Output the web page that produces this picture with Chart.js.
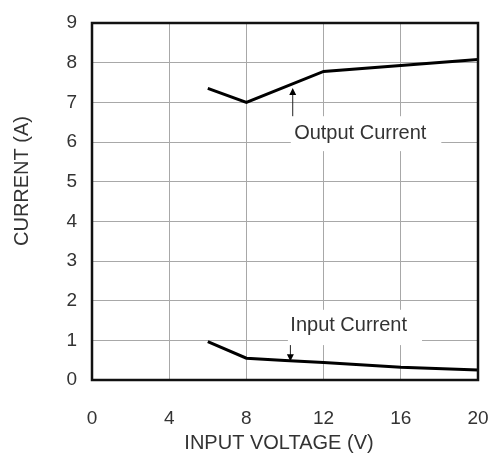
<!DOCTYPE html>
<html>
<head>
<meta charset="utf-8">
<script src="https://cdn.jsdelivr.net/npm/chart.js@4"></script>
<style>
  html, body { margin: 0; padding: 0; background: #fff; }
  #wrap { width: 494px; height: 455px; }
</style>
</head>
<body>
<div id="wrap"><canvas id="chart" width="494" height="455"></canvas></div>
<script>
// axis ticks
const voltageTicks = [0, 4, 8, 12, 16, 20];
const currentTicks = [0, 1, 2, 3, 4, 5, 6, 7, 8, 9];

// output current curve
const outputVoltage = [6, 8, 12, 20];
const outputCurrent = [7.35, 7.0, 7.78, 8.08];

// input current curve
const inputVoltage = [6, 8, 10, 12, 16, 20];
const inputCurrent = [0.97, 0.55, 0.49, 0.44, 0.32, 0.25];

const FONT = '"Liberation Sans", Arial, sans-serif';
const TEXT = '#333333';

function toPoints(xs, ys) {
    return xs.map((x, i) => ({ x: x, y: ys[i] }));
}

// labels with an arrow pointing at the curve
const callouts = [
    { text: 'Output Current', tx: 13.9, ty: 6.22, box: [10.3, 18.1, 6.65, 5.77], ax: 10.4, tip: 7.36 },
    { text: 'Input Current', tx: 13.3, ty: 1.37, box: [10.15, 17.1, 1.77, 0.88], ax: 10.28, tip: 0.47 }
];

const decorPlugin = {
    id: 'decor',
    afterDatasetsDraw(chart) {
        const ctx = chart.ctx;
        const a = chart.chartArea;
        const xs = chart.scales.x, ys = chart.scales.y;
        ctx.save();

        callouts.forEach(c => {
            // white box hiding the grid behind the label
            const x1 = xs.getPixelForValue(c.box[0]), x2 = xs.getPixelForValue(c.box[1]);
            const y1 = ys.getPixelForValue(c.box[2]), y2 = ys.getPixelForValue(c.box[3]);
            ctx.fillStyle = '#fff';
            ctx.fillRect(x1, y1, x2 - x1, y2 - y1);

            ctx.fillStyle = TEXT;
            ctx.font = '20px ' + FONT;
            ctx.textAlign = 'center';
            ctx.textBaseline = 'middle';
            ctx.fillText(c.text, xs.getPixelForValue(c.tx), ys.getPixelForValue(c.ty));

            // arrow
            const ax = xs.getPixelForValue(c.ax);
            const tipY = ys.getPixelForValue(c.tip);
            const up = c.tip > c.box[2];
            const startY = up ? y1 : y2;
            const dir = up ? 1 : -1;
            ctx.strokeStyle = '#222';
            ctx.lineWidth = 1;
            ctx.beginPath();
            ctx.moveTo(ax, startY);
            ctx.lineTo(ax, tipY + dir * 6);
            ctx.stroke();
            ctx.fillStyle = '#000';
            ctx.beginPath();
            ctx.moveTo(ax, tipY);
            ctx.lineTo(ax - 3.5, tipY + dir * 7);
            ctx.lineTo(ax + 3.5, tipY + dir * 7);
            ctx.closePath();
            ctx.fill();
        });

        // frame
        ctx.strokeStyle = '#111';
        ctx.lineWidth = 2.5;
        ctx.strokeRect(a.left, a.top, a.right - a.left, a.bottom - a.top);

        // axis titles
        ctx.fillStyle = TEXT;
        ctx.font = '20px ' + FONT;
        ctx.textAlign = 'center';
        ctx.textBaseline = 'middle';
        ctx.fillText('INPUT VOLTAGE (V)', a.left + 187, a.bottom + 63);
        ctx.translate(22, a.top + 158);
        ctx.rotate(-Math.PI / 2);
        ctx.fillText('CURRENT (A)', 0, 0);
        ctx.restore();
    }
};

new Chart(document.getElementById('chart'), {
    type: 'scatter',
    data: {
        datasets: [
            {
                label: 'Output Current',
                data: toPoints(outputVoltage, outputCurrent),
                showLine: true,
                borderColor: '#000',
                borderWidth: 3,
                pointRadius: 0,
                tension: 0
            },
            {
                label: 'Input Current',
                data: toPoints(inputVoltage, inputCurrent),
                showLine: true,
                borderColor: '#000',
                borderWidth: 3,
                pointRadius: 0,
                tension: 0
            }
        ]
    },
    options: {
        responsive: false,
        animation: false,
        layout: { padding: { left: 0, right: 16, top: 23, bottom: 0 } },
        plugins: {
            legend: { display: false },
            tooltip: { enabled: false }
        },
        scales: {
            x: {
                type: 'linear',
                min: 0,
                max: 20,
                afterBuildTicks: s => { s.ticks = voltageTicks.map(v => ({ value: v })); },
                afterFit: s => { s.height = 75; s.paddingLeft = 0; s.paddingRight = 0; },
                grid: { color: '#a8a8a8', lineWidth: 1, drawTicks: false },
                border: { display: false },
                ticks: { color: TEXT, font: { family: FONT, size: 19 }, padding: 27, maxRotation: 0 }
            },
            y: {
                type: 'linear',
                min: 0,
                max: 9,
                afterBuildTicks: s => { s.ticks = currentTicks.map(v => ({ value: v })); },
                afterFit: s => { s.width = 92; s.paddingTop = 0; s.paddingBottom = 0; },
                grid: { color: '#a8a8a8', lineWidth: 1, drawTicks: false },
                border: { display: false },
                ticks: { color: TEXT, font: { family: FONT, size: 19 }, padding: 15 }
            }
        }
    },
    plugins: [decorPlugin]
});
</script>
</body>
</html>
